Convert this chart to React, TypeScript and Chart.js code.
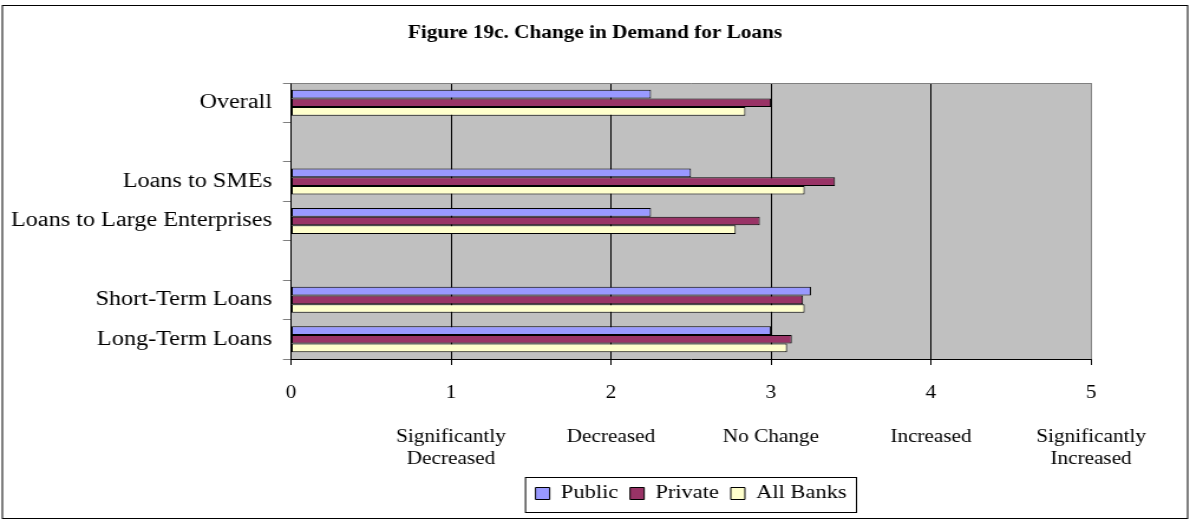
import React, { useEffect, useRef } from "react";
import { Chart, registerables } from "chart.js";

Chart.register(...registerables);

// ---- data ----
const categories = [
  "Overall",
  "",
  "Loans to SMEs",
  "Loans to Large Enterprises",
  "",
  "Short-Term Loans",
  "Long-Term Loans",
];
const seriesNames = ["Public", "Private", "All Banks"];
const publicValues = [2.25, null, 2.5, 2.25, null, 3.25, 3.0];
const privateValues = [3.0, null, 3.4, 2.93, null, 3.2, 3.13];
const allBanksValues = [2.84, null, 3.21, 2.78, null, 3.21, 3.1];
const xTickValues = [0, 1, 2, 3, 4, 5];
const xTickDescriptions = [
  "",
  "Significantly\nDecreased",
  "Decreased",
  "No Change",
  "Increased",
  "Significantly\nIncreased",
];
const titleText = "Figure 19c. Change in Demand for Loans";

// ---- styles ----
const seriesColors = ["#9999FF", "#993366", "#FFFFCC"];
const FONT = "'Liberation Serif', 'Times New Roman', serif";
const CSS_W = 1190;
const H = 521;
const W = 1008; // drawn narrower, displayed stretched like the reference
const K = CSS_W / W;

const bgPlugin = {
  id: "bgPlugin",
  beforeDraw(chart: any) {
    const { ctx, chartArea } = chart;
    ctx.save();
    ctx.fillStyle = "#FFFFFF";
    ctx.fillRect(0, 0, chart.width, chart.height);
    ctx.fillStyle = "#C0C0C0";
    ctx.fillRect(
      chartArea.left,
      chartArea.top,
      chartArea.right - chartArea.left,
      chartArea.bottom - chartArea.top
    );
    ctx.restore();
  },
  afterDraw(chart: any) {
    const { ctx, chartArea } = chart;
    ctx.save();
    ctx.strokeStyle = "#808080";
    ctx.lineWidth = 1;
    ctx.beginPath();
    ctx.moveTo(chartArea.left, Math.round(chartArea.top) + 0.5);
    ctx.lineTo(chartArea.right, Math.round(chartArea.top) + 0.5);
    ctx.stroke();
    ctx.strokeStyle = "#000";
    ctx.strokeRect(2, 5.5, chart.width - 4, H - 8);
    const lg = chart.legend;
    if (lg && lg.legendHitBoxes && lg.legendHitBoxes.length) {
      const hbs = lg.legendHitBoxes;
      let l = Infinity;
      let r = -Infinity;
      hbs.forEach((hb: any) => {
        l = Math.min(l, hb.left);
        r = Math.max(r, hb.left + hb.width);
      });
      const cy = hbs[0].top + hbs[0].height / 2;
      ctx.strokeRect(l - 8.5, Math.round(cy - 17) + 0.5, r - l + 17, 35);
    }
    ctx.restore();
  },
};

export default function App() {
  const ref = useRef<HTMLCanvasElement | null>(null);

  useEffect(() => {
    if (!ref.current) return;
    const chart = new Chart(ref.current, {
      type: "bar",
      data: {
        labels: categories,
        datasets: [publicValues, privateValues, allBanksValues].map((d, i) => ({
          label: seriesNames[i],
          data: d,
          backgroundColor: seriesColors[i],
          borderColor: "#000",
          borderWidth: 1,
          borderSkipped: false,
          categoryPercentage: 0.66,
          barPercentage: 1,
        })),
      },
      options: {
        indexAxis: "y",
        responsive: false,
        animation: false,
        devicePixelRatio: 1,
        layout: { padding: { left: 0, right: 0, top: 0, bottom: 8 } },
        plugins: {
          title: {
            display: true,
            text: titleText,
            color: "#000",
            font: { family: FONT, size: 18, weight: "bold", lineHeight: 1.2 },
            padding: { top: 23, bottom: 83 - 23 - 21.6 },
          },
          legend: {
            position: "bottom",
            fullSize: false,
            labels: {
              color: "#000",
              font: { family: FONT, size: 19 },
              boxWidth: 12,
              boxHeight: 12,
              padding: 10,
            },
          },
          tooltip: { enabled: false },
        },
        scales: {
          x: {
            type: "linear",
            min: xTickValues[0],
            max: xTickValues[xTickValues.length - 1],
            afterBuildTicks: (s: any) => {
              s.ticks = xTickValues.map((v) => ({ value: v }));
            },
            ticks: {
              color: "#000",
              font: { family: FONT, size: 18, lineHeight: 22 / 18 },
              padding: 17,
              maxRotation: 0,
              autoSkip: false,
              callback: (v: any) => {
                const idx = xTickValues.indexOf(Number(v));
                const desc = idx >= 0 ? xTickDescriptions[idx] : "";
                return desc ? [String(v), "", ...desc.split("\n")] : [String(v)];
              },
            },
            grid: {
              color: (c: any) => {
                const v = c.tick ? c.tick.value : -1;
                if (v === 0) return "rgba(0,0,0,0)";
                if (v === 5) return "#808080";
                return "#000";
              },
              lineWidth: 1,
              tickLength: 6,
              tickColor: "#000",
            },
            border: { display: true, color: "#000", width: 1 },
            afterFit: (s: any) => {
              s.height = 115;
            },
          },
          y: {
            type: "category",
            position: "left",
            ticks: {
              color: "#000",
              font: { family: FONT, size: 20.5 },
              padding: 9.3,
              autoSkip: false,
            },
            grid: {
              drawOnChartArea: false,
              offset: true,
              tickLength: 6.8,
              tickColor: "#808080",
            },
            border: { display: true, color: "#000", width: 1 },
            afterFit: (s: any) => {
              s.width = 291 / K;
            },
          },
          yRightSpace: {
            type: "category",
            position: "right",
            labels: categories,
            grid: { display: false, drawTicks: false },
            border: { display: false },
            ticks: { display: false },
            afterFit: (s: any) => {
              s.width = W - 1091 / K;
            },
          },
        },
      },
      plugins: [bgPlugin],
    } as any);
    return () => chart.destroy();
  }, []);

  return (
    <div style={{ position: "fixed", left: 0, top: 0, width: CSS_W, height: H, background: "#fff" }}>
      <canvas
        ref={ref}
        width={W}
        height={H}
        style={{ width: CSS_W + "px", height: H + "px", display: "block" }}
      />
    </div>
  );
}
